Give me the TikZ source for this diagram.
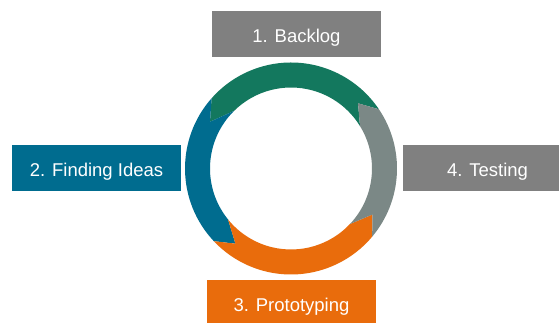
\documentclass[tikz,border=0pt]{standalone}
\usepackage{fontspec}
\setmainfont{Liberation Sans}
\definecolor{ringgreen}{HTML}{13785E}
\definecolor{ringblue}{HTML}{006C8F}
\definecolor{ringgray}{HTML}{7B8886}
\definecolor{ringorange}{HTML}{E96C0C}
\definecolor{boxgray}{HTML}{808080}
% #1 colour, #2 outer start, #3 inner start, #4 notch tip, #5 outer end, #6 head tip, #7 inner end
\newcommand\ringpiece[7]{%
  \fill[#1] (#2:106pt) arc[start angle=#2, end angle=#5, radius=106pt]
    -- (#6:93.5pt) -- (#7:81pt) arc[start angle=#7, end angle=#3, radius=81pt]
    -- (#4:93.5pt) -- cycle;}
\tikzset{
  stagebox/.style={rectangle, minimum width=168.4pt, minimum height=46.3pt,
    inner sep=0pt, text=white, text height=16.5pt, text depth=0pt,
    font=\fontsize{18.5}{22}\selectfont},
}
\begin{document}
\begin{tikzpicture}[x=1pt,y=1pt]
\useasboundingbox (0,0) rectangle (559,323);
\fill[white] (0,0) rectangle (559,323);
\begin{scope}[shift={(291,154.5)}]
  \ringpiece{ringgreen}{34}{31.6}{44.2}{138.5}{150}{134.6}
  \ringpiece{ringblue}{138.5}{134.6}{150}{223.3}{233.5}{219}
  \ringpiece{ringorange}{223.3}{219}{233.5}{320}{330.5}{316.7}
  \ringpiece{ringgray}{320}{316.7}{330.5}{394}{404.2}{391.6}
\end{scope}
\begin{scope}
\clip (0,0) rectangle (559,323);
\node[stagebox, fill=boxgray] (backlog) at (296.5,288.85) {1. Backlog};
\node[stagebox, fill=ringblue] (ideas) at (96.5,154.65) {2. Finding Ideas};
\node[stagebox, fill=ringorange] (proto) at (291.5,19.85) {3. Prototyping};
\node[stagebox, fill=boxgray] (testing) at (487.5,155) {4. Testing};
\end{scope}
\end{tikzpicture}
\end{document}
